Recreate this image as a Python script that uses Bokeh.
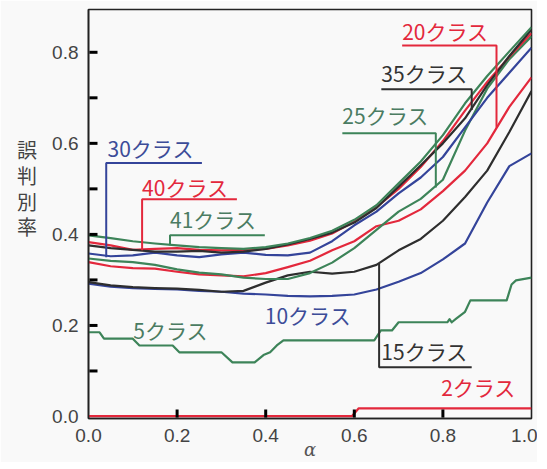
from bokeh.plotting import figure
from bokeh.models import Range1d, SingleIntervalTicker, Label, ColumnDataSource
from bokeh.embed import file_html
from bokeh.resources import INLINE

# ---- data ----
alpha = [0.00, 0.05, 0.10, 0.15, 0.20, 0.25, 0.30, 0.35, 0.40, 0.45, 0.50,
         0.55, 0.60, 0.65, 0.70, 0.75, 0.80, 0.85, 0.90, 0.95, 1.00]

err_41 = [0.398, 0.392, 0.385, 0.380, 0.376, 0.372, 0.370, 0.368, 0.372, 0.380, 0.392,
          0.408, 0.432, 0.464, 0.512, 0.560, 0.618, 0.688, 0.748, 0.802, 0.855]
err_35 = [0.376, 0.370, 0.366, 0.362, 0.362, 0.364, 0.360, 0.362, 0.368, 0.378, 0.390,
          0.404, 0.426, 0.458, 0.505, 0.552, 0.600, 0.655, 0.728, 0.792, 0.850]
err_40 = [0.383, 0.376, 0.366, 0.368, 0.370, 0.366, 0.365, 0.366, 0.368, 0.376, 0.386,
          0.402, 0.428, 0.460, 0.500, 0.548, 0.605, 0.672, 0.735, 0.790, 0.842]
err_30 = [0.358, 0.352, 0.354, 0.360, 0.354, 0.350, 0.356, 0.360, 0.355, 0.354, 0.360,
          0.385, 0.420, 0.450, 0.490, 0.525, 0.570, 0.635, 0.700, 0.755, 0.810]
err_25 = [0.347, 0.342, 0.339, 0.333, 0.323, 0.316, 0.312, 0.305, 0.302, 0.302, 0.315,
          0.338, 0.370, 0.410, 0.450, 0.478, 0.520, 0.628, 0.720, 0.785, 0.835]
err_20 = [0.339, 0.330, 0.326, 0.325, 0.318, 0.312, 0.310, 0.308, 0.315, 0.328, 0.342,
          0.365, 0.385, 0.418, 0.430, 0.455, 0.495, 0.540, 0.600, 0.680, 0.745]
err_15 = [0.295, 0.288, 0.284, 0.282, 0.281, 0.278, 0.274, 0.276, 0.294, 0.310, 0.318,
          0.314, 0.318, 0.333, 0.365, 0.390, 0.430, 0.482, 0.540, 0.625, 0.715]
err_10 = [0.292, 0.285, 0.282, 0.280, 0.279, 0.276, 0.274, 0.270, 0.268, 0.265, 0.264,
          0.265, 0.268, 0.279, 0.296, 0.315, 0.345, 0.380, 0.470, 0.550, 0.578]

alpha_5 = [0.0, 0.025, 0.035, 0.10, 0.115, 0.19, 0.205, 0.30, 0.325, 0.375, 0.395, 0.41,
           0.425, 0.44, 0.645, 0.66, 0.685, 0.70, 0.81, 0.815, 0.82, 0.83, 0.85, 0.862,
           0.944, 0.955, 0.965, 1.0]
err_5 = [0.185, 0.185, 0.171, 0.171, 0.156, 0.156, 0.141, 0.141, 0.119, 0.119, 0.135, 0.141,
         0.156, 0.167, 0.167, 0.189, 0.189, 0.207, 0.207, 0.214, 0.207, 0.215, 0.230, 0.255,
         0.255, 0.290, 0.299, 0.305]

alpha_2 = [0.0, 0.595, 0.61, 1.0]
err_2 = [0.001, 0.001, 0.018, 0.018]

x_ticks = [0.0, 0.2, 0.4, 0.6, 0.8, 1.0]
y_ticks = [0.0, 0.2, 0.4, 0.6, 0.8]
x_tick_marks = [0.2, 0.4, 0.6, 0.8]
y_tick_marks = [0.1, 0.2, 0.3, 0.4, 0.5, 0.6, 0.7, 0.8]

X_MIN, X_MAX = 0.0, 1.0
Y_MIN, Y_MAX = -0.0044, 0.894
FRAME_W, FRAME_H = 443, 409
TICK_PX = 9

RED = "#e3283c"
GREEN = "#3d8459"
BLUE = "#34449a"
BLACK = "#2e2e2e"
GREEN_T = "#4b7c62"
BLUE_T = "#3c4c98"

p = figure(frame_width=FRAME_W, frame_height=FRAME_H, output_backend="svg",
           toolbar_location=None, x_range=Range1d(X_MIN, X_MAX),
           y_range=Range1d(Y_MIN, Y_MAX),
           min_border_left=88, min_border_right=6, min_border_top=9,
           min_border_bottom=44, background_fill_color="#f9f9f9",
           border_fill_color="#f9f9f9")
p.grid.visible = False
p.outline_line_color = "#222222"
p.outline_line_width = 1.6

p.xaxis.ticker = SingleIntervalTicker(interval=0.2, num_minor_ticks=0)
p.yaxis.ticker = SingleIntervalTicker(interval=0.2, num_minor_ticks=0)
p.xaxis.major_label_overrides = {v: f"{v:.1f}" for v in x_ticks}
p.yaxis.major_label_overrides = {v: f"{v:.1f}" for v in y_ticks}
for ax in (p.xaxis, p.yaxis):
    ax.axis_line_color = "#222222"
    ax.axis_line_width = 1.6
    ax.major_tick_in = 0
    ax.major_tick_out = 0
    ax.minor_tick_in = 0
    ax.minor_tick_out = 0
    ax.major_label_text_font = "Liberation Sans"
    ax.major_label_text_font_size = "19px"
    ax.major_label_text_color = "#444444"
p.xaxis.major_label_standoff = 10
p.yaxis.major_label_standoff = 10

p.xaxis.axis_label = "α"
p.xaxis.axis_label_text_font = "DejaVu Serif"
p.xaxis.axis_label_text_font_style = "italic"
p.xaxis.axis_label_text_font_size = "18px"
p.xaxis.axis_label_text_color = "#555555"
p.xaxis.axis_label_standoff = -6

p.yaxis.axis_label = "誤\n判\n別\n率\n\n"
p.yaxis.axis_label_orientation = "horizontal"
p.yaxis.axis_label_text_font = "Noto Sans CJK JP"
p.yaxis.axis_label_text_font_style = "normal"
p.yaxis.axis_label_text_font_size = "20px"
p.yaxis.axis_label_text_line_height = 0.89
p.yaxis.axis_label_text_color = "#444444"
p.yaxis.axis_label_standoff = 12

# inward tick marks: short segments starting slightly inside the axes
dx = TICK_PX * (X_MAX - X_MIN) / FRAME_W
dy = TICK_PX * (Y_MAX - Y_MIN) / FRAME_H
ytick_src = ColumnDataSource(dict(
    x0=[X_MIN + 0.002] * len(y_tick_marks), x1=[X_MIN + dx] * len(y_tick_marks),
    y=y_tick_marks))
xtick_src = ColumnDataSource(dict(
    x=x_tick_marks, y0=[Y_MIN + 0.002] * len(x_tick_marks),
    y1=[Y_MIN + dy] * len(x_tick_marks)))
p.segment(x0="x0", y0="y", x1="x1", y1="y", source=ytick_src,
          line_color="#000000", line_width=3, level="overlay")
p.segment(x0="x", y0="y0", x1="x", y1="y1", source=xtick_src,
          line_color="#000000", line_width=3, level="overlay")

series = [
    (alpha, err_10, BLUE), (alpha, err_15, BLACK), (alpha, err_20, RED),
    (alpha, err_25, GREEN), (alpha, err_30, BLUE), (alpha, err_40, RED),
    (alpha, err_35, BLACK), (alpha, err_41, GREEN),
    (alpha_5, err_5, GREEN), (alpha_2, err_2, RED),
]
for xs, ys, c in series:
    p.line(xs, ys, line_color=c, line_width=2.2, line_join="round")

# leader lines (label callouts)
leaders = [
    ([0.040, 0.040, 0.256], [0.350, 0.557, 0.557], BLUE),
    ([0.121, 0.121, 0.335], [0.365, 0.477, 0.477], RED),
    ([0.184, 0.184, 0.398], [0.376, 0.398, 0.398], GREEN),
    ([0.573, 0.784, 0.784], [0.622, 0.622, 0.503], GREEN),
    ([0.661, 0.865, 0.865], [0.719, 0.719, 0.673], BLACK),
    ([0.708, 0.921, 0.921], [0.815, 0.815, 0.635], RED),
    ([0.656, 0.656, 0.865], [0.336, 0.108, 0.108], BLACK),
]
for xs, ys, c in leaders:
    p.line(xs, ys, line_color=c, line_width=2.0)

labels = [
    ("30クラス", 0.043, 0.589, BLUE_T),
    ("40クラス", 0.121, 0.505, RED),
    ("41クラス", 0.184, 0.433, GREEN_T),
    ("25クラス", 0.573, 0.662, GREEN_T),
    ("35クラス", 0.661, 0.754, "#333333"),
    ("20クラス", 0.708, 0.846, RED),
    ("15クラス", 0.661, 0.143, "#333333"),
    ("10クラス", 0.398, 0.224, BLUE_T),
    ("5クラス", 0.101, 0.191, GREEN_T),
    ("2クラス", 0.796, 0.064, RED),
]
for t, x, y, c in labels:
    p.add_layout(Label(x=x, y=y, text=t, text_color=c, text_font="Noto Sans CJK JP",
                       text_font_size="21px", text_align="left",
                       text_baseline="middle"))

open("out.html", "w").write(file_html(p, INLINE))
